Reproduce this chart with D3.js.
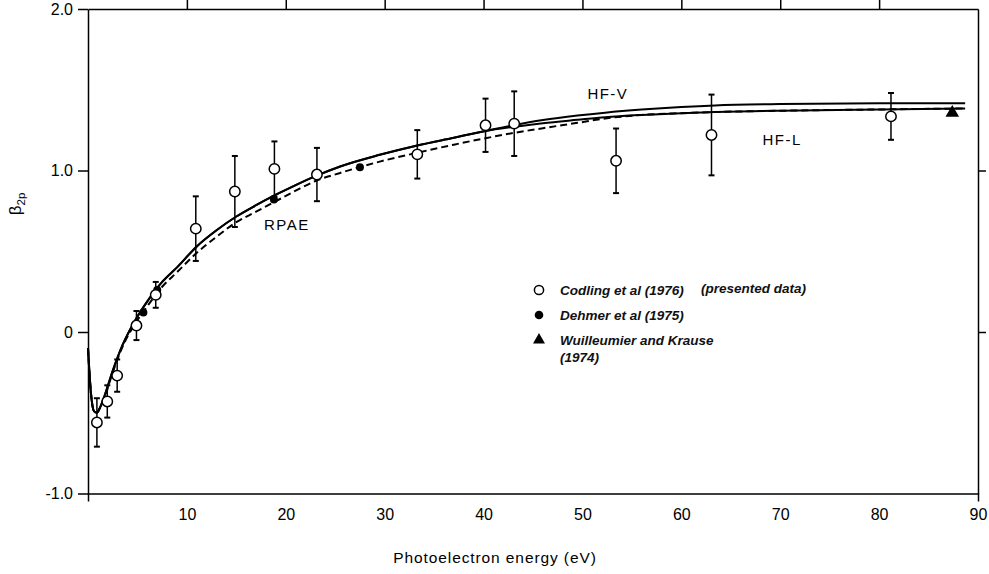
<!DOCTYPE html>
<html><head><meta charset="utf-8">
<script src="https://cdn.jsdelivr.net/npm/d3@7"></script>
<style>
html,body{margin:0;padding:0;background:#fff;}
svg{display:block;}
.axis path,.axis line{stroke:#000;stroke-width:1.5;}
.axis text{font-family:"Liberation Sans",Arial,sans-serif;font-size:16px;fill:#000;}
</style></head>
<body>
<svg id="chart" width="989" height="574"></svg>
<script>
// ---------- data ----------
const xTicks = [10, 20, 30, 40, 50, 60, 70, 80, 90];
const yTicks = [-1, 0, 1, 2];
const yTickLabels = ["-1.0", "0", "1.0", "2.0"];

// Codling et al (1976) - open circles with error bars
const codlingE   = [0.9, 1.95, 2.95, 4.9, 6.85, 10.9, 14.85, 18.85, 23.15, 33.3, 40.2, 43.1, 53.4, 63.05, 81.2];
const codlingB   = [-0.56, -0.43, -0.27, 0.04, 0.23, 0.64, 0.87, 1.01, 0.975, 1.10, 1.28, 1.29, 1.06, 1.22, 1.335];
const codlingErr = [0.15, 0.10, 0.10, 0.09, 0.08, 0.20, 0.22, 0.17, 0.165, 0.15, 0.165, 0.20, 0.20, 0.25, 0.145];

// Dehmer et al (1975) - filled circles
const dehmerE = [5.6, 7.0, 18.8, 27.5];
const dehmerB = [0.12, 0.26, 0.82, 1.02];

// Wuilleumier and Krause (1974) - filled triangle
const wkE = [87.4];
const wkB = [1.357];

// theory curves
const curveE = [0, 0.3, 0.6, 0.9, 1.2, 1.7, 2.5, 3.5, 4.75, 6, 7.5, 9, 11, 13, 15, 17, 19, 21, 23, 25.5, 29.5, 33.3, 37, 40.2, 43, 46, 49.5, 52.3, 56, 60, 63.4, 70, 80, 88.7];
const hfV  = [-0.10, -0.38, -0.49, -0.50, -0.47, -0.39, -0.24, -0.08, 0.07, 0.19, 0.31, 0.40, 0.53, 0.63, 0.715, 0.785, 0.85, 0.91, 0.965, 1.025, 1.097, 1.155, 1.203, 1.245, 1.28, 1.312, 1.34, 1.358, 1.377, 1.393, 1.403, 1.411, 1.416, 1.417];
const hfL  = [-0.10, -0.38, -0.49, -0.50, -0.47, -0.39, -0.24, -0.08, 0.07, 0.19, 0.31, 0.40, 0.53, 0.63, 0.715, 0.785, 0.85, 0.91, 0.965, 1.025, 1.097, 1.155, 1.203, 1.245, 1.27, 1.293, 1.314, 1.33, 1.344, 1.355, 1.362, 1.37, 1.378, 1.384];
const rpae = [-0.10, -0.38, -0.49, -0.50, -0.47, -0.40, -0.25, -0.09, 0.05, 0.16, 0.28, 0.37, 0.49, 0.59, 0.68, 0.745, 0.81, 0.875, 0.935, 0.985, 1.055, 1.11, 1.16, 1.20, 1.232, 1.262, 1.295, 1.322, 1.344, 1.355, 1.362, 1.37, 1.378, 1.384];

const curveLabels = [
  {text: "HF-V", e: 50.5, b: 1.443},
  {text: "HF-L", e: 68.2, b: 1.157},
  {text: "RPAE", e: 17.8, b: 0.63}
];

const legendItems = [
  {symbol: "open",     lines: ["Codling et al (1976)"], extra: "(presented data)"},
  {symbol: "filled",   lines: ["Dehmer et al (1975)"]},
  {symbol: "triangle", lines: ["Wuilleumier and Krause", "(1974)"]}
];

// ---------- chart ----------
const svg = d3.select("#chart");
const x = d3.scaleLinear().domain([0, 90]).range([88, 978]);
const y = d3.scaleLinear().domain([-1, 2]).range([493.5, 9]);

// axes
svg.append("g").attr("class", "axis")
  .attr("transform", `translate(0,${y(-1)})`)
  .call(d3.axisBottom(x).tickValues(xTicks).tickSize(0).tickSizeOuter(8).tickPadding(15).tickFormat(d3.format("d")));
svg.append("g").attr("class", "axis")
  .attr("transform", `translate(0,${y(2)})`)
  .call(d3.axisTop(x).tickValues(xTicks.slice(0, -1)).tickSize(10).tickSizeOuter(0).tickFormat(""));
svg.append("g").attr("class", "axis")
  .attr("transform", `translate(${x(0)},0)`)
  .call(d3.axisLeft(y).tickValues(yTicks).tickSize(10).tickSizeOuter(0).tickPadding(5)
    .tickFormat(d => yTickLabels[yTicks.indexOf(d)]));
svg.append("g").attr("class", "axis")
  .attr("transform", `translate(${x(90)},0)`)
  .call(d3.axisRight(y).tickValues([0, 1]).tickSize(8).tickSizeOuter(0).tickFormat(""));

// axis titles
svg.append("text")
  .attr("x", 495).attr("y", 563)
  .attr("text-anchor", "middle")
  .style("font-family", "'Liberation Sans',Arial,sans-serif")
  .style("font-size", "15.5px").style("letter-spacing", "0.9px")
  .text("Photoelectron energy  (eV)");
const yl = svg.append("text")
  .attr("transform", "translate(21,204) rotate(-90)")
  .attr("text-anchor", "middle")
  .style("font-family", "'Liberation Sans',Arial,sans-serif")
  .style("font-size", "17px");
yl.append("tspan").text("β");
yl.append("tspan").attr("dy", 4).style("font-size", "11.5px").text("2p");

// curves
const line = d3.line().x(d => x(d[0])).y(d => y(d[1])).curve(d3.curveMonotoneX);
const mk = arr => curveE.map((e, i) => [e, arr[i]]);
svg.append("path").datum(mk(rpae)).attr("d", line)
  .attr("fill", "none").attr("stroke", "#000").attr("stroke-width", 2).attr("stroke-dasharray", "7,4");
svg.append("path").datum(mk(hfL)).attr("d", line)
  .attr("fill", "none").attr("stroke", "#000").attr("stroke-width", 2);
svg.append("path").datum(mk(hfV)).attr("d", line)
  .attr("fill", "none").attr("stroke", "#000").attr("stroke-width", 2);

// curve labels
svg.selectAll(".clabel").data(curveLabels).enter().append("text")
  .attr("class", "clabel")
  .attr("x", d => x(d.e)).attr("y", d => y(d.b))
  .style("font-family", "'Liberation Sans',Arial,sans-serif")
  .style("font-size", "15px").style("letter-spacing", "1.5px")
  .text(d => d.text);

// error bars
const codling = codlingE.map((e, i) => ({e, b: codlingB[i], err: codlingErr[i]}));
const eb = svg.append("g");
eb.selectAll(".bar").data(codling).enter().append("line")
  .attr("x1", d => x(d.e)).attr("x2", d => x(d.e))
  .attr("y1", d => y(d.b + d.err)).attr("y2", d => y(d.b - d.err))
  .attr("stroke", "#000").attr("stroke-width", 1.5);
["top", "bot"].forEach(k => {
  eb.selectAll(".cap" + k).data(codling).enter().append("line")
    .attr("x1", d => x(d.e) - 3).attr("x2", d => x(d.e) + 3)
    .attr("y1", d => y(k === "top" ? d.b + d.err : d.b - d.err))
    .attr("y2", d => y(k === "top" ? d.b + d.err : d.b - d.err))
    .attr("stroke", "#000").attr("stroke-width", 2);
});

// Dehmer filled circles
svg.selectAll(".dehmer").data(dehmerE.map((e, i) => ({e, b: dehmerB[i]}))).enter().append("circle")
  .attr("cx", d => x(d.e)).attr("cy", d => y(d.b)).attr("r", 4).attr("fill", "#000");

// Codling open circles
svg.selectAll(".codling").data(codling).enter().append("circle")
  .attr("cx", d => x(d.e)).attr("cy", d => y(d.b)).attr("r", 5.2)
  .attr("fill", "#fff").attr("stroke", "#000").attr("stroke-width", 1.5);

// triangle
const tri = d3.symbol().type(d3.symbolTriangle).size(80);
svg.selectAll(".wk").data(wkE.map((e, i) => ({e, b: wkB[i]}))).enter().append("path")
  .attr("d", tri).attr("transform", d => `translate(${x(d.e)},${y(d.b)})`).attr("fill", "#000");

// legend
const lg = svg.append("g").attr("transform", "translate(539,290)");
const rowY = [0, 25, 50];
legendItems.forEach((it, i) => {
  const g = lg.append("g").attr("transform", `translate(0,${rowY[i]})`);
  if (it.symbol === "open") g.append("circle").attr("r", 4.6).attr("fill", "#fff").attr("stroke", "#000").attr("stroke-width", 1.5);
  else if (it.symbol === "filled") g.append("circle").attr("r", 4.3).attr("fill", "#000");
  else g.append("path").attr("d", d3.symbol().type(d3.symbolTriangle).size(62)).attr("fill", "#000");
  it.lines.forEach((t, j) => {
    g.append("text").attr("x", 21).attr("y", 4.5 + j * 17)
      .style("font-family", "'Liberation Sans',Arial,sans-serif")
      .style("font-size", "13.5px").style("font-weight", "bold").style("font-style", "italic")
      .attr("fill", "#111")
      .text(t);
  });
  if (it.extra) g.append("text").attr("x", 162).attr("y", 3)
      .style("font-family", "'Liberation Sans',Arial,sans-serif")
      .style("font-size", "13.5px").style("font-weight", "bold").style("font-style", "italic")
      .attr("fill", "#111").text(it.extra);
});
</script>
</body></html>
